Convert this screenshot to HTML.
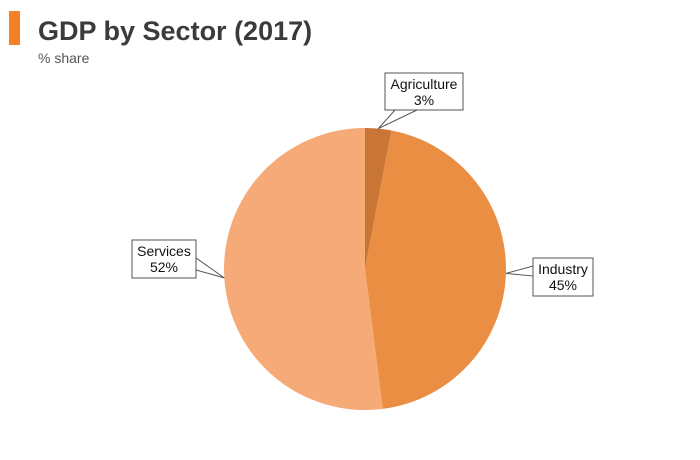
<!DOCTYPE html>
<html><head><meta charset="utf-8"><style>
body{margin:0;background:#fff;width:700px;height:455px;overflow:hidden;font-family:"Liberation Sans",sans-serif}
</style></head><body>
<svg width="700" height="455">
<rect x="9" y="11" width="11" height="34" fill="#f47f24"/>
<text x="38" y="40" font-size="27" font-weight="bold" fill="#3b3b3b">GDP by Sector (2017)</text>
<text x="38" y="63" font-size="14" fill="#555">% share</text>
<g id="pie"></g>
<g id="labels"></g>
</svg>
<script>
const categories=["Agriculture","Industry","Services"];
const values=[3,45,52];
const colors=["#c87535","#e98e42","#f6aa78"];
const cx=365,cy=269,r=141;
const boxes=[{x:385,y:73,w:78,h:37,side:"bottom"},{x:533,y:258,w:60,h:38,side:"left"},{x:132,y:240,w:64,h:38,side:"right"}];
const ns="http://www.w3.org/2000/svg";
const pie=document.getElementById('pie'),lab=document.getElementById('labels');
const total=values.reduce((a,b)=>a+b,0);
function pt(a,rr){return [cx+rr*Math.sin(a),cy-rr*Math.cos(a)];}
let acc=0;
values.forEach((v,i)=>{
  const a0=acc/total*2*Math.PI;acc+=v;const a1=acc/total*2*Math.PI;
  const p0=pt(a0,r),p1=pt(a1,r);
  const p=document.createElementNS(ns,'path');
  p.setAttribute('d',`M${cx},${cy}L${p0[0]},${p0[1]}A${r},${r} 0 ${a1-a0>Math.PI?1:0} 1 ${p1[0]},${p1[1]}Z`);
  p.setAttribute('fill',colors[i]);
  
  
  pie.appendChild(p);
  const am=(a0+a1)/2,tip=pt(am,r);
  const b=boxes[i];
  let base;
  if(b.side==="bottom")base=`${b.x+10},${b.y+b.h} ${b.x+32},${b.y+b.h}`;
  else if(b.side==="left")base=`${b.x},${b.y+8} ${b.x},${b.y+18}`;
  else base=`${b.x+b.w},${b.y+18} ${b.x+b.w},${b.y+30}`;
  const g=document.createElementNS(ns,'g');
  
  
  const rect=document.createElementNS(ns,'rect');
  rect.setAttribute('x',b.x);rect.setAttribute('y',b.y);rect.setAttribute('width',b.w);rect.setAttribute('height',b.h);
  rect.setAttribute('fill','#fff');rect.setAttribute('stroke','#555');rect.setAttribute('stroke-width','1');
  g.appendChild(rect);
  const ptr=document.createElementNS(ns,'polygon');
  ptr.setAttribute('points',`${base} ${tip[0]},${tip[1]}`);
  ptr.setAttribute('fill','#fff');ptr.setAttribute('stroke','#555');ptr.setAttribute('stroke-width','1');
  g.appendChild(ptr);
  const cover=document.createElementNS(ns,'rect');
  cover.setAttribute('x',b.x+0.5);cover.setAttribute('y',b.y+0.5);cover.setAttribute('width',b.w-1);cover.setAttribute('height',b.h-1);cover.setAttribute('fill','#fff');
  g.appendChild(cover);
  [categories[i],v+'%'].forEach((s,k)=>{
    const t=document.createElementNS(ns,'text');
    t.setAttribute('x',b.x+b.w/2);t.setAttribute('y',b.y+16+k*16);
    t.setAttribute('text-anchor','middle');t.setAttribute('font-size','14');t.setAttribute('fill','#111');
    
    
    t.textContent=s;g.appendChild(t);
  });
  lab.appendChild(g);
});
</script>
</body></html>
